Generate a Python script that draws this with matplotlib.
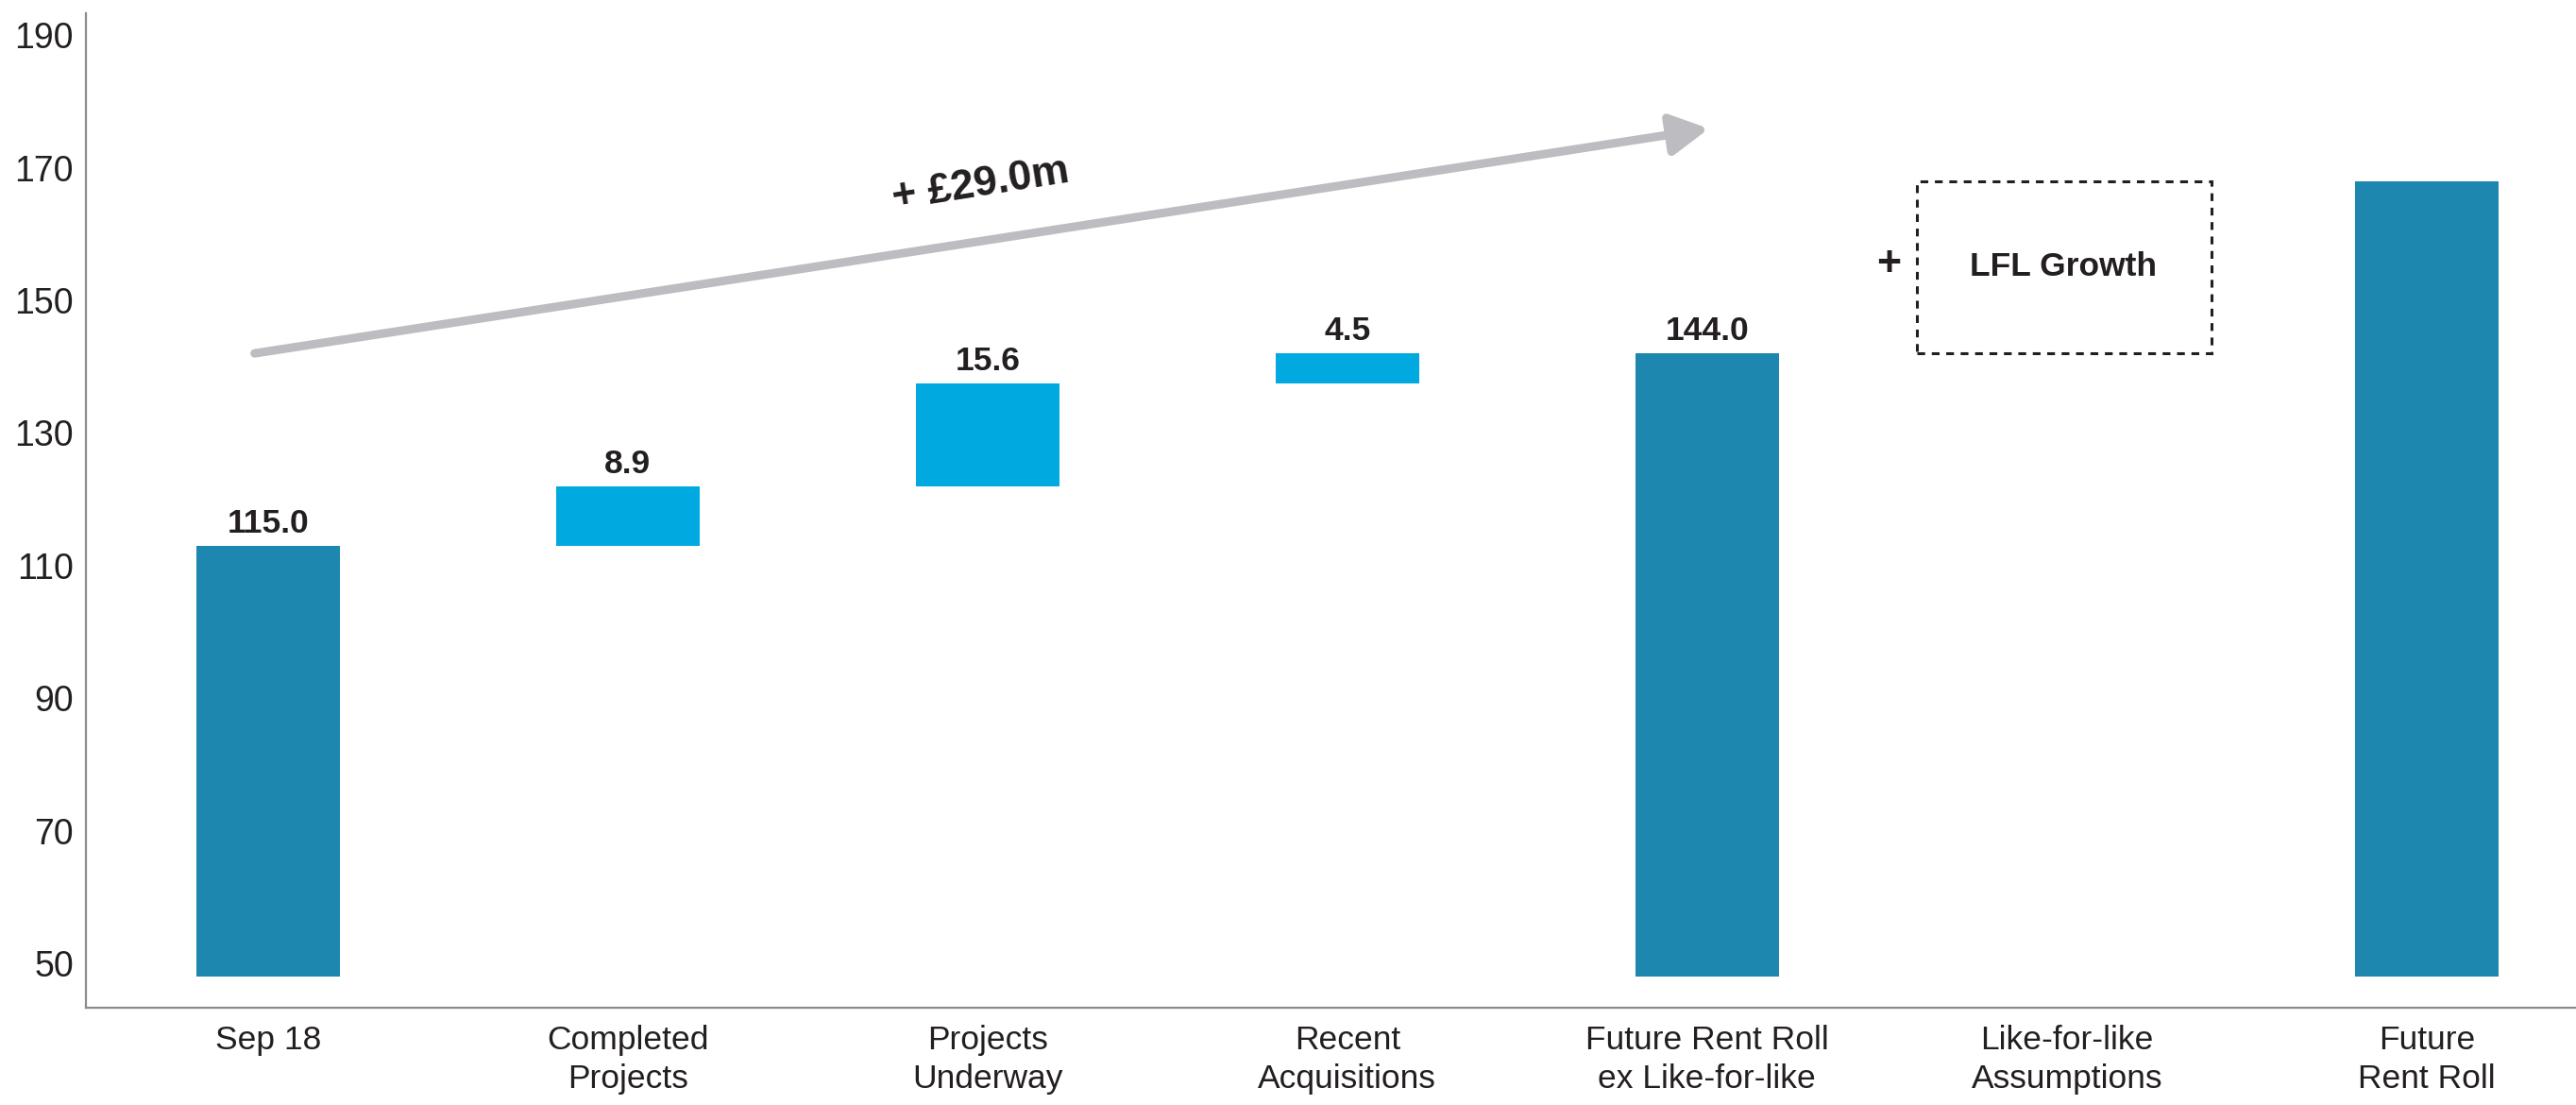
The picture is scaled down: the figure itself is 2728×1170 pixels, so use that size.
import matplotlib.pyplot as plt
from matplotlib.patches import Rectangle
from matplotlib.transforms import ScaledTranslation

plt.rcParams['font.family'] = ['Liberation Sans', 'DejaVu Sans']

categories = ['Sep 18', 'Completed\nProjects', 'Projects\nUnderway', 'Recent\nAcquisitions',
              'Future Rent Roll\nex Like-for-like', 'Like-for-like\nAssumptions', 'Future\nRent Roll']
baseline = 50
start_value = 115.0
increments = [8.9, 15.6, 4.5]
subtotal = 144.0
lfl_top = 170.0
future_value = 170.0
yticks = [50, 70, 90, 110, 130, 150, 170, 190]
growth_label = '+ £29.0m'

dark_blue = '#1d87b0'
light_blue = '#00a9e0'
text_col = '#231f20'

fig = plt.figure(figsize=(27.28, 11.7), dpi=100)
ax = fig.add_axes([0.0332, 0.088, 0.9668, 0.9])

x = list(range(len(categories)))
w = 0.40

# totals
ax.bar(x[0], start_value - baseline, bottom=baseline, width=w, color=dark_blue)
ax.bar(x[4], subtotal - baseline, bottom=baseline, width=w, color=dark_blue)
ax.bar(x[6], future_value - baseline, bottom=baseline, width=w, color=dark_blue)

# steps
running = start_value
for i, inc in enumerate(increments):
    ax.bar(x[i + 1], inc, bottom=running, width=w, color=light_blue)
    running += inc
    ax.text(x[i + 1], running + 1.0, f'{inc:.1f}', ha='center', va='bottom',
            fontsize=25.5, fontweight='bold', color=text_col)

ax.text(x[0], start_value + 1.0, f'{start_value:.1f}', ha='center', va='bottom',
        fontsize=25.5, fontweight='bold', color=text_col)
ax.text(x[4], subtotal + 1.0, f'{subtotal:.1f}', ha='center', va='bottom',
        fontsize=25.5, fontweight='bold', color=text_col)

# LFL placeholder box
ax.add_patch(Rectangle((4.584, subtotal), 0.818, lfl_top - subtotal, fill=False,
                       ls=(0, (2.7, 2.3)), lw=2.2, ec=text_col))
ax.text(4.99, (subtotal + lfl_top) / 2, 'LFL Growth', ha='center', va='center',
        fontsize=25.5, fontweight='bold', color=text_col)
ax.text(4.505, (subtotal + lfl_top) / 2 + 0.3, '+', ha='center', va='center',
        fontsize=32, fontweight='bold', color=text_col)

# growth arrow
ax.annotate('', xy=(4.005, 177.9), xytext=(-0.037, subtotal),
            arrowprops=dict(arrowstyle='-|>,head_length=2.4,head_width=1.3',
                            lw=6.5, color='#bdbdc1', shrinkA=0, shrinkB=0))
ax.text(1.98, 169.4, growth_label, ha='center', va='center', rotation=9,
        fontsize=32, fontweight='bold', color=text_col)

ax.set_xlim(-0.507, 6.415)
ax.set_ylim(45.3, 195.3)
ax.set_xticks(x)
ax.set_xticklabels(categories, linespacing=1.3)
ax.set_yticks(yticks)
ax.tick_params(axis='x', length=0, labelsize=25.5, colors=text_col, pad=13)
ax.tick_params(axis='y', length=0, labelsize=27, colors=text_col, pad=9)
off = ScaledTranslation(0, 0.14, fig.dpi_scale_trans)
for lab in ax.get_yticklabels():
    lab.set_transform(lab.get_transform() + off)

for s in ['top', 'right']:
    ax.spines[s].set_visible(False)
for s in ['left', 'bottom']:
    ax.spines[s].set_color('#8c8c8c')
    ax.spines[s].set_linewidth(1.6)

fig.savefig('out.png', dpi=100)
